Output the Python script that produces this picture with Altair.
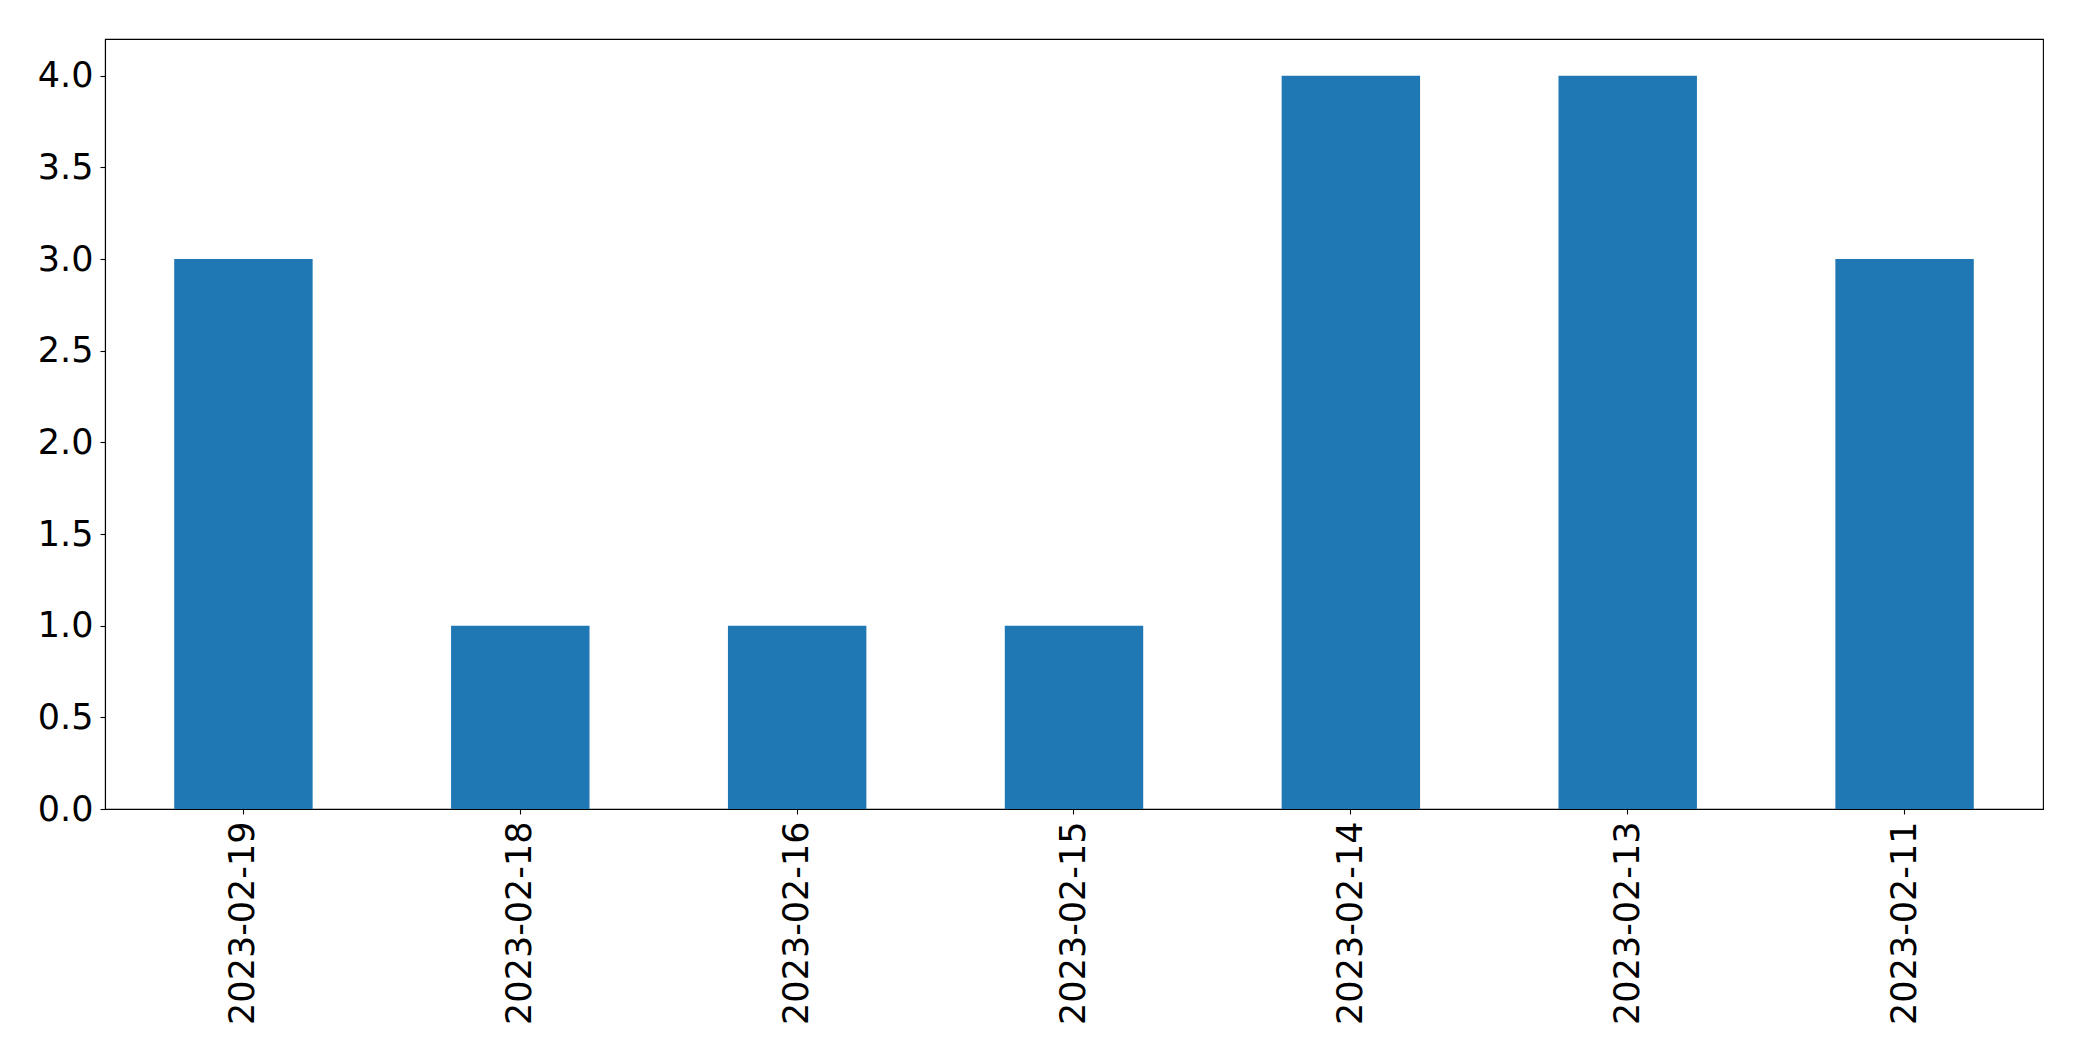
import altair as alt
import pandas as pd

dates = ["2023-02-19", "2023-02-18", "2023-02-16", "2023-02-15",
         "2023-02-14", "2023-02-13", "2023-02-11"]
counts = [3, 1, 1, 1, 4, 4, 3]

df = pd.DataFrame({"date": dates, "count": counts})

chart = alt.Chart(df).mark_bar(color="#1f77b4").encode(
    x=alt.X("date:N", sort=None, title=None,
            scale=alt.Scale(paddingInner=0.5, paddingOuter=0.25),
            axis=alt.Axis(labelAngle=270, labelAlign="right", labelBaseline="middle",
                          labelPadding=7, tickSize=5, tickColor="black",
                          domainColor="black", labelColor="black", labelLimit=0,
                          labelFont="DejaVu Sans", labelFontSize=35, grid=False)),
    y=alt.Y("count:Q", title=None,
            scale=alt.Scale(domain=[0, 4.2], nice=False, zero=True),
            axis=alt.Axis(values=[0, 0.5, 1, 1.5, 2, 2.5, 3, 3.5, 4], format=".1f",
                          labelPadding=7, tickSize=5, tickColor="black",
                          domainColor="black", labelColor="black",
                          labelFont="DejaVu Sans", labelFontSize=35, grid=False)),
).properties(
    width=1938, height=770,
    autosize=alt.AutoSizeParams(type="none"),
    padding={"left": 97, "top": 31, "right": 28, "bottom": 240},
).configure_view(
    stroke="black", strokeWidth=1.1
).configure_axis(
    domainWidth=1.1, tickWidth=1.1
)

chart.save("out.html", embed_options={"renderer": "svg", "actions": False})
